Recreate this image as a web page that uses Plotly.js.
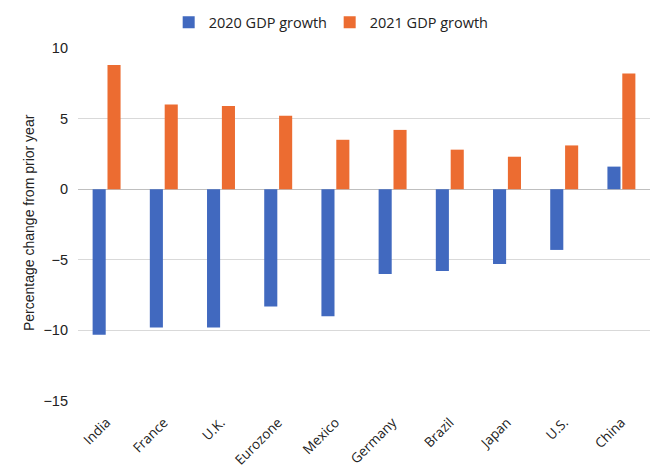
<!DOCTYPE html>
<html>
<head>
<meta charset="utf-8">
<script src="https://cdn.plot.ly/plotly-3.0.1.min.js"></script>
<style>html,body{margin:0;padding:0;background:#fff;}#chart{width:656px;height:469px;}</style>
</head>
<body>
<div id="chart"></div>
<script>
const categories = ["India","France","U.K.","Eurozone","Mexico","Germany","Brazil","Japan","U.S.","China"];
const growth2020 = [-10.3,-9.8,-9.8,-8.3,-9.0,-6.0,-5.8,-5.3,-4.3,1.6];
const growth2021 = [8.8,6.0,5.9,5.2,3.5,4.2,2.8,2.3,3.1,8.2];
const seriesNames = ["2020 GDP growth","2021 GDP growth"];
const yTicks = [-15,-10,-5,0,5,10];
const yTitle = 'Percentage change from prior year';

const traces = [
  {type:'bar', x:categories, y:growth2020, name:seriesNames[0], marker:{color:'#4169BF'}},
  {type:'bar', x:categories, y:growth2021, name:seriesNames[1], marker:{color:'#EC6C31'}}
];
const layout = {
  width:656, height:469,
  margin:{l:78, r:6, t:46, b:68},
  paper_bgcolor:'#fff', plot_bgcolor:'#fff',
  font:{family:'Liberation Sans, Arial, sans-serif', size:13, color:'#222'},
  barmode:'group', bargap:0.48, bargroupgap:0.12,
  showlegend:true,
  legend:{orientation:'h', x:0.44, xanchor:'center', y:1.073, yanchor:'middle', yref:'paper',
          font:{family:'Open Sans, sans-serif', size:14.5, color:'#222'}, itemwidth:30, tracegroupgap:0,
          entrywidth:116, entrywidthmode:'pixels'},
  xaxis:{type:'category', tickangle:-45, showgrid:false, zeroline:false, showline:false, ticks:'',
         ticklabelstandoff:10,
         tickfont:{family:'Open Sans, sans-serif', size:13.5, color:'#222'}},
  yaxis:{range:[-15,10], tickvals:yTicks, showgrid:true, gridcolor:'#d9d9d9', gridwidth:1,
         zeroline:true, zerolinecolor:'#bfbfbf', zerolinewidth:1, showline:false, ticks:'',
         ticklabelstandoff:9, tickfont:{size:14.5, color:'#222'}},
  annotations:[{text:yTitle, textangle:-90, xref:'paper', yref:'paper', x:-0.0857, y:0.507,
                xanchor:'center', yanchor:'middle', showarrow:false, font:{size:14, color:'#222'}}]
};
Plotly.newPlot('chart', traces, layout, {displayModeBar:false, staticPlot:true});
</script>
</body>
</html>
